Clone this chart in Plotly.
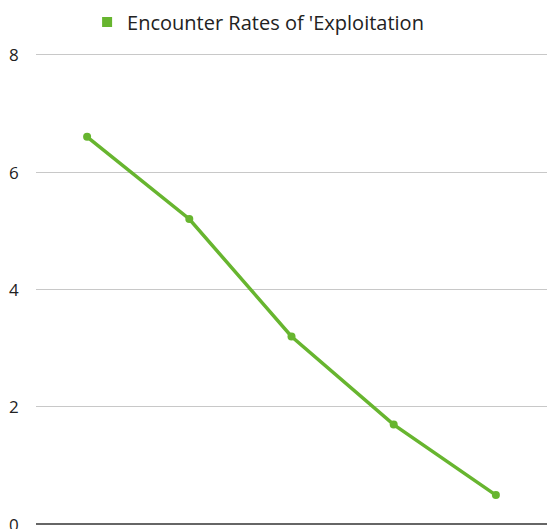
import plotly.graph_objects as go

# Encounter rates over five successive periods
periods = ["1", "2", "3", "4", "5"]
encounter_rates = [6.6, 5.2, 3.2, 1.7, 0.5]
series_name = "Encounter Rates of 'Exploitation"
y_ticks = [0, 2, 4, 6, 8]

GREEN = "#67B52F"
FONT = "Open Sans"
TEXT = "#222222"

fig = go.Figure()

fig.add_trace(go.Scatter(
    x=periods,
    y=encounter_rates,
    mode="lines+markers",
    line=dict(color=GREEN, width=3.5),
    marker=dict(color=GREEN, size=8),
    showlegend=False,
    name=series_name,
))

# Legend entry shown as a plain square swatch
fig.add_trace(go.Scatter(
    x=[None], y=[None],
    mode="markers",
    marker=dict(color=GREEN, size=10, symbol="square"),
    name=series_name,
    showlegend=True,
))

# Y tick labels as annotations so the baseline label is kept even when it
# runs past the bottom edge of the figure
for v in y_ticks:
    fig.add_annotation(
        x=0, xref="paper", xanchor="right", xshift=-15,
        y=v, yref="y", yanchor="middle",
        text=str(v), showarrow=False,
        font=dict(family=FONT, size=17, color=TEXT),
    )

fig.update_layout(
    width=547,
    height=529,
    margin=dict(l=36, r=0, t=51, b=1),
    paper_bgcolor="white",
    plot_bgcolor="white",
    font=dict(family=FONT, size=17, color=TEXT),
    legend=dict(
        orientation="h",
        x=0.1, xanchor="left",
        y=1.061, yanchor="middle",
        font=dict(family=FONT, size=20, color=TEXT),
        itemwidth=30,
        bgcolor="rgba(0,0,0,0)",
    ),
    xaxis=dict(
        type="category",
        showticklabels=False,
        showgrid=False,
        zeroline=False,
        showline=False,
        ticks="",
        range=[-0.5, 4.5],
    ),
    yaxis=dict(
        range=[-0.06, 8.06],
        tickvals=y_ticks,
        showticklabels=False,
        showgrid=True,
        gridcolor="#C8C8C8",
        gridwidth=1,
        zeroline=True,
        zerolinecolor="#666666",
        zerolinewidth=1.5,
        showline=False,
        ticks="",
    ),
)

fig.write_html("out.html")
